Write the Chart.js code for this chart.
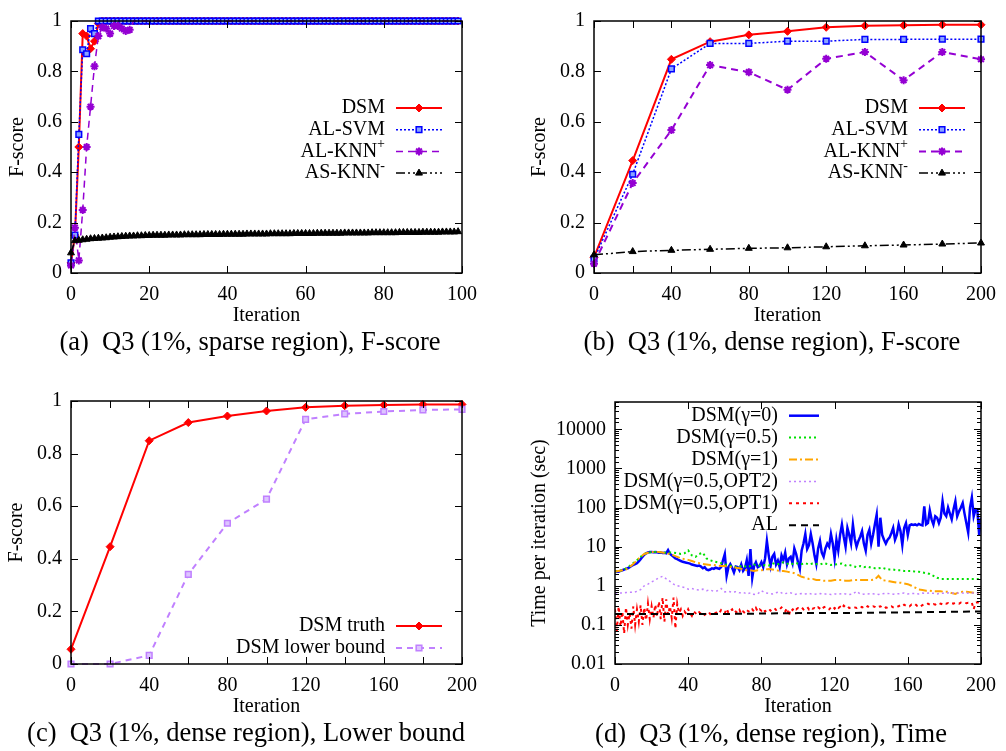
<!DOCTYPE html>
<html><head><meta charset="utf-8">
<script src="https://cdn.jsdelivr.net/npm/chart.js@4.4.1/dist/chart.umd.min.js"></script>
<style>
html,body{margin:0;padding:0;background:#fff;width:1006px;height:751px;overflow:hidden;}
body{position:relative;font-family:"Liberation Serif","Times New Roman",serif;}
canvas{position:absolute;}
.cap{position:absolute;font-size:26.5px;line-height:30px;white-space:pre;transform:translateX(-50%);color:#000;}
</style></head><body>
<canvas id="ca" width="500" height="330" style="left:0px;top:0px"></canvas>
<canvas id="cb" width="506" height="330" style="left:500px;top:0px"></canvas>
<canvas id="cc" width="500" height="350" style="left:0px;top:370px"></canvas>
<canvas id="cd" width="506" height="350" style="left:500px;top:370px"></canvas>
<div class="cap" style="left:250px;top:326px">(a)  Q3 (1%, sparse region), F-score</div>
<div class="cap" style="left:772px;top:326px">(b)  Q3 (1%, dense region), F-score</div>
<div class="cap" style="left:246px;top:717px">(c)  Q3 (1%, dense region), Lower bound</div>
<div class="cap" style="left:771px;top:718px">(d)  Q3 (1%, dense region), Time</div>
<script>
// ---------------- DATA ----------------
// Panel (a): iterations 0..99
const iterA = Array.from({length: 100}, (_, i) => i);
const dsmA = [0.04,0.15,0.50,0.95,0.94,0.89,0.92,0.99,
  1,1,1,1,1,1,1,1,1,1,1,1,1,1,1,1,1,1,1,1,1,1,1,
  1,1,1,1,1,1,1,1,1,1,1,1,1,1,1,1,1,1,1,1,1,1,1,
  1,1,1,1,1,1,1,1,1,1,1,1,1,1,1,1,1,1,1,1,1,1,1,
  1,1,1,1,1,1,1,1,1,1,1,1,1,1,1,1,1,1,1,1,1,1,1];
const svmA = [0.04,0.15,0.55,0.886,0.87,0.97,0.95,
  1,1,1,1,1,1,1,1,1,1,1,1,1,1,1,1,1,1,1,1,1,1,1,
  1,1,1,1,1,1,1,1,1,1,1,1,1,1,1,1,1,1,1,1,1,1,1,
  1,1,1,1,1,1,1,1,1,1,1,1,1,1,1,1,1,1,1,1,1,1,1,
  1,1,1,1,1,1,1,1,1,1,1,1,1,1,1,1,1,1,1,1,1,1,1,1];
const knnA = [0.03,0.18,0.05,0.25,0.50,0.66,0.82,0.94,0.975,0.97,0.95,0.98,0.98,0.97,0.96,0.965,
  1,1,1,1,1,1,1,1,1,1,1,1,1,1,1,1,1,1,1,1,1,
  1,1,1,1,1,1,1,1,1,1,1,1,1,1,1,1,1,1,1,1,1,
  1,1,1,1,1,1,1,1,1,1,1,1,1,1,1,1,1,1,1,1,1,
  1,1,1,1,1,1,1,1,1,1,1,1,1,1,1,1,1,1,1,1,1];
const knnAMarkedUpTo = 15; // stars only shown for the early, unconverged iterations
const asA = [0.08,
  0.128,0.13,0.132,0.134,0.136,0.137,0.138,0.139,0.14,0.142,
  0.143,0.144,0.145,0.146,0.147,0.147,0.148,0.148,0.149,0.149,
  0.15,0.15,0.15,0.15,0.151,0.151,0.151,0.151,0.152,0.152,
  0.152,0.152,0.152,0.153,0.153,0.153,0.153,0.153,0.154,0.154,
  0.154,0.154,0.154,0.154,0.155,0.155,0.155,0.155,0.155,0.155,
  0.156,0.156,0.156,0.156,0.156,0.156,0.157,0.157,0.157,0.157,
  0.157,0.157,0.158,0.158,0.158,0.158,0.158,0.158,0.158,0.159,
  0.159,0.159,0.159,0.159,0.159,0.159,0.16,0.16,0.16,0.16,
  0.16,0.16,0.16,0.161,0.161,0.161,0.161,0.161,0.161,0.162,
  0.162,0.162,0.162,0.162,0.163,0.163,0.163,0.163,0.164];

// Panel (b)
const iterB = [0,20,40,60,80,100,120,140,160,180,200];
const dsmB = [0.062,0.446,0.848,0.918,0.945,0.959,0.975,0.981,0.983,0.985,0.985];
const svmB = [0.056,0.392,0.81,0.911,0.911,0.92,0.92,0.927,0.927,0.928,0.928];
const knnB = [0.037,0.357,0.567,0.825,0.797,0.727,0.85,0.877,0.765,0.877,0.848];
const asB  = [0.072,0.085,0.09,0.094,0.098,0.10,0.104,0.108,0.111,0.115,0.119];

// Panel (c)
const iterC = [0,20,40,60,80,100,120,140,160,180,200];
const truthC = [0.056,0.446,0.849,0.918,0.943,0.962,0.976,0.982,0.985,0.987,0.987];
const lowerC = [0,0,0.033,0.341,0.535,0.627,0.93,0.951,0.96,0.966,0.968];

// Panel (d)
const iterD1 = Array.from({length: 201}, (_, i) => i);
const iterD2 = Array.from({length: 101}, (_, i) => i * 2);
const iterAL = [0,20,40,60,80,100,120,140,160,180,200];
const dsmG0 = [2.2,2.3,2.3,2.4,2.5,2.6,2.7,2.8,3.0,3.2,3.4,
  3.6,3.8,4.2,4.8,5.5,6.2,6.8,7.1,7.3,7.3,
  7.2,7.3,7.2,7.0,7.1,6.9,7.0,6.8,8.2,6.6,
  6.0,5.5,5.0,4.8,4.5,4.3,4.1,4.0,3.9,3.8,
  3.7,3.5,3.4,3.3,3.2,3.3,3.1,2.8,3.0,2.6,
  2.5,2.6,2.8,2.7,2.9,2.8,2.7,3.0,4.5,6.5,
  1.8,3.0,3.6,2.9,2.2,3.1,3.0,2.5,3.5,2.4,
  2.8,4.5,1.8,8.7,1.6,3.2,4.0,3.0,3.2,4.0,
  3.0,5.0,14,6.0,3.2,5.5,6.5,3.5,4.4,3.0,
  6.0,4.5,7.0,3.5,5.0,5.5,3.8,9.0,6.5,4.0,
  2.7,8.0,12,21,8.7,11,21,12,6.0,3.6,
  9.0,14,7.0,5.5,9.0,12,10,21,12,5.0,
  15,8.0,20,37,18,10,30,20,12,37,
  16,10,14,18,25,12,7.9,20,27,12,
  20,37,66,10,55,20,15,12,15,17,
  22,30,15,20,37,25,11,30,40,20,
  35,37,36,37,35,38,36,35,107,37,
  40,85,50,37,60,55,40,55,145,70,
  60,100,70,50,90,145,60,80,100,130,
  70,40,23,100,180,60,90,85,20,55];
const dsmG05 = [2.3,2.4,2.5,2.8,3.2,3.8,4.5,5.5,6.5,7.0,7.2,
  7.3,7.2,7.2,7.0,7.1,7.0,6.8,6.5,6.8,8.0,
  6.0,5.5,6.5,7.0,5.0,4.5,4.2,4.0,3.8,3.5,
  3.3,3.2,3.0,3.1,3.3,3.0,3.2,3.5,3.3,3.2,
  3.4,3.3,3.8,3.5,3.6,4.0,3.7,3.5,3.8,3.7,
  3.6,3.8,3.5,3.7,3.6,3.5,3.8,3.6,3.4,3.5,
  3.6,3.7,3.3,3.4,3.2,3.0,3.2,3.0,3.1,2.9,
  2.8,2.8,2.9,2.7,2.6,2.6,2.5,2.5,2.4,2.4,
  2.4,2.3,2.3,2.2,2.1,2.0,1.8,1.6,1.5,1.5,
  1.5,1.5,1.5,1.5,1.5,1.5,1.5,1.5,1.5,1.5];
const dsmG1 = [2.3,2.4,2.5,2.6,3.0,3.6,4.5,5.5,6.5,7.0,7.3,
  7.4,7.3,7.1,6.8,6.5,6.0,5.5,5.0,4.8,4.6,
  4.3,4.0,3.8,3.6,3.5,3.4,3.4,3.3,3.2,3.2,
  3.0,3.0,2.9,2.8,2.6,2.5,2.5,2.4,2.5,2.5,
  2.6,2.7,2.6,2.5,2.4,2.4,2.3,2.2,2.1,1.9,
  1.7,1.6,1.5,1.5,1.4,1.4,1.35,1.35,1.35,1.4,
  1.4,1.4,1.35,1.35,1.4,1.4,1.4,1.4,1.4,1.4,
  1.45,1.8,1.4,1.35,1.3,1.25,1.2,1.2,1.15,1.1,
  1.0,0.9,0.8,0.78,0.75,0.75,0.73,0.72,0.72,0.7,
  0.7,0.65,0.62,0.68,0.7,0.7,0.68,0.66,0.65,0.65];
const dsmOpt2 = [0.65,0.66,0.65,0.67,0.68,0.68,0.72,0.8,1.0,1.1,1.25,
  1.4,1.6,1.75,1.5,1.3,1.1,1.0,0.95,0.9,0.82,
  0.85,0.8,0.78,0.82,0.75,0.78,0.72,0.75,0.85,0.7,
  0.72,0.68,0.7,0.66,0.68,0.62,0.66,0.6,0.62,0.75,
  0.66,0.64,0.62,0.66,0.7,0.62,0.64,0.66,0.6,0.62,
  0.63,0.62,0.64,0.6,0.62,0.63,0.61,0.62,0.6,0.62,
  0.61,0.63,0.62,0.6,0.62,0.72,0.62,0.61,0.62,0.63,
  0.62,0.6,0.62,0.64,0.63,0.61,0.62,0.63,0.65,0.62,
  0.63,0.64,0.62,0.65,0.64,0.66,0.64,0.62,0.65,0.64,
  0.66,0.65,0.64,0.66,0.65,0.64,0.66,0.65,0.66,0.65];
const dsmOpt1 = [0.25,0.07,0.3,0.09,0.22,0.06,0.28,0.1,0.2,0.08,0.3,
  0.1,0.25,0.12,0.32,0.1,0.28,0.13,0.35,0.14,0.3,
  0.15,0.33,0.16,0.4,0.14,0.5,0.12,0.45,0.18,0.3,
  0.15,0.5,0.08,0.35,0.2,0.25,0.17,0.22,0.19,0.25,
  0.2,0.17,0.22,0.2,0.18,0.21,0.19,0.2,0.18,0.2,
  0.22,0.19,0.21,0.2,0.2,0.22,0.2,0.24,0.22,0.2,
  0.26,0.2,0.23,0.25,0.2,0.22,0.2,0.24,0.19,0.22,
  0.2,0.24,0.22,0.21,0.25,0.22,0.27,0.22,0.25,0.23,
  0.26,0.22,0.24,0.26,0.23,0.25,0.27,0.24,0.26,0.25,
  0.28,0.25,0.22,0.27,0.17,0.26,0.24,0.28,0.25,0.27,
  0.26,0.28,0.25,0.27,0.29,0.25,0.28,0.26,0.27,0.25,
  0.28,0.26,0.24,0.28,0.29,0.26,0.25,0.28,0.3,0.26,
  0.3,0.27,0.29,0.26,0.31,0.28,0.3,0.27,0.28,0.29,
  0.28,0.27,0.29,0.3,0.28,0.29,0.27,0.3,0.28,0.29,
  0.3,0.29,0.27,0.29,0.3,0.28,0.26,0.28,0.27,0.29,
  0.3,0.28,0.27,0.29,0.3,0.32,0.3,0.33,0.31,0.32,
  0.3,0.33,0.32,0.34,0.31,0.33,0.3,0.32,0.34,0.33,
  0.35,0.33,0.32,0.34,0.33,0.36,0.34,0.35,0.33,0.36,
  0.35,0.36,0.34,0.36,0.35,0.37,0.36,0.35,0.37,0.36,
  0.37,0.36,0.37,0.36,0.37,0.25,0.37,0.38,0.37,0.38];
const alD = [0.19,0.19,0.19,0.19,0.195,0.2,0.2,0.205,0.21,0.215,0.22];

// ---------------- HELPERS ----------------
const FONT = '"Liberation Serif", "Times New Roman", serif';
const pts = (xs, ys) => xs.map((x, i) => ({x: x, y: ys[i]}));

function drawMarker(ctx, ds, x, y) {
  ctx.save();
  ctx.setLineDash([]);
  ctx.fillStyle = ds.pointBackgroundColor || ds.borderColor;
  ctx.strokeStyle = ds.pointBorderColor || ds.borderColor;
  ctx.lineWidth = ds.pointBorderWidth || 1;
  const r = ds.legendRadius || ds.pointRadius;
  if (Chart.helpers && Chart.helpers.drawPoint) {
    Chart.helpers.drawPoint(ctx, {pointStyle: ds.pointStyle, radius: r, rotation: 0, borderWidth: ds.pointBorderWidth || 1}, x, y);
  }
  ctx.restore();
}

const gLegend = {
  id: 'gLegend',
  afterDatasetsDraw(chart, args, o) {
    if (!o || o.textRight === undefined) return;
    const ctx = chart.ctx;
    chart.data.datasets.forEach((ds, i) => {
      const y = o.y0 + i * o.dy;
      ctx.save();
      ctx.fillStyle = '#000';
      ctx.textBaseline = 'middle';
      ctx.textAlign = 'right';
      let x = o.textRight;
      if (ds.sup) {
        ctx.font = '14px ' + FONT;
        ctx.fillText(ds.sup, x, y - 7);
        x -= ctx.measureText(ds.sup).width;
      }
      ctx.font = '20px ' + FONT;
      ctx.fillText(ds.label, x, y);
      ctx.strokeStyle = ds.borderColor;
      ctx.lineWidth = ds.borderWidth;
      ctx.setLineDash(ds.borderDash || []);
      ctx.beginPath();
      ctx.moveTo(o.l0, y);
      ctx.lineTo(o.l1, y);
      ctx.stroke();
      ctx.restore();
      if (ds.legendRadius || (typeof ds.pointRadius === 'number' && ds.pointRadius > 0)) drawMarker(ctx, ds, (o.l0 + o.l1) / 2, y);
    });
  }
};

const gFrame = {
  id: 'gFrame',
  afterDraw(chart) {
    const {ctx, chartArea: a, scales} = chart;
    ctx.save();
    ctx.strokeStyle = '#000';
    ctx.setLineDash([]);
    ctx.lineWidth = 1;
    const seg = (x1, y1, x2, y2) => { ctx.beginPath(); ctx.moveTo(x1, y1); ctx.lineTo(x2, y2); ctx.stroke(); };
    const xs = scales.x, ys = scales.y;
    xs.ticks.forEach(t => {
      const p = Math.round(xs.getPixelForValue(t.value)) + 0.5;
      seg(p, a.bottom, p, a.bottom - 7);
      seg(p, a.top, p, a.top + 7);
    });
    ys.ticks.forEach(t => {
      let L = 7;
      if (ys.type === 'logarithmic') {
        const l = Math.log10(t.value);
        L = Math.abs(l - Math.round(l)) < 1e-6 ? 7 : 4;
      }
      const p = Math.round(ys.getPixelForValue(t.value)) + 0.5;
      seg(a.left, p, a.left + L, p);
      seg(a.right, p, a.right - L, p);
    });
    ctx.lineWidth = 1.5;
    ctx.strokeRect(a.left, a.top, a.right - a.left, a.bottom - a.top);
    ctx.restore();
  }
};

function xScale(max, step, every, h, tpad) {
  return {
    type: 'linear', min: 0, max: max,
    ticks: {stepSize: step, autoSkip: false, maxRotation: 0, padding: 10, color: '#000',
      font: {family: FONT, size: 20},
      callback: v => (v % every === 0 ? String(v) : '')},
    grid: {display: false, drawTicks: false}, border: {display: false},
    title: {display: true, text: 'Iteration', color: '#000', font: {family: FONT, size: 20}, padding: {top: 0, bottom: tpad}},
    afterFit: s => { s.height = h; }
  };
}
function yLin(w, tpad) {
  return {
    type: 'linear', min: 0, max: 1,
    ticks: {stepSize: 0.2, autoSkip: false, padding: 9, color: '#000', font: {family: FONT, size: 20},
      callback: v => String(Math.round(v * 10) / 10)},
    grid: {display: false, drawTicks: false}, border: {display: false},
    title: {display: true, text: 'F-score', color: '#000', font: {family: FONT, size: 20}, padding: {top: tpad, bottom: 0}},
    afterFit: s => { s.width = w; }
  };
}
function baseOpts(pad, xs, ys, legend) {
  return {
    responsive: false, animation: false, devicePixelRatio: 1,
    layout: {padding: pad, autoPadding: false},
    scales: {x: xs, y: ys},
    plugins: {legend: {display: false}, tooltip: {enabled: false}, gLegend: legend},
    elements: {line: {tension: 0}}
  };
}

// Dataset style factories
const sDSM = (label, data, i) => ({label, data, order: -i, clip: false, borderColor: '#ff0000', backgroundColor: '#ff0000', borderWidth: 2,
  pointStyle: 'rectRot', pointRadius: 4, pointBackgroundColor: '#ff0000', pointBorderColor: '#ff0000', pointBorderWidth: 1});
const sSVM = (label, data, i) => ({label, data, order: -i, clip: false, borderColor: '#0000ff', borderWidth: 1.5, borderDash: [2, 2],
  pointStyle: 'rect', pointRadius: 4, pointBackgroundColor: '#8aa4ff', pointBorderColor: '#0000ff', pointBorderWidth: 1.5});
const sKNN = (label, data, i) => ({label, sup: '+', data, order: -i, clip: false, borderColor: '#9400d3', borderWidth: 2, borderDash: [7, 5],
  pointStyle: 'star', pointRadius: 4, pointBackgroundColor: '#9400d3', pointBorderColor: '#9400d3', pointBorderWidth: 2});
const sAS = (label, data, i) => ({label, sup: '-', data, order: -i, clip: false, borderColor: '#000000', borderWidth: 1.5, borderDash: [9, 3, 2, 3, 2, 3],
  pointStyle: 'triangle', pointRadius: 4, pointBackgroundColor: '#000', pointBorderColor: '#000', pointBorderWidth: 1});

// ---------------- CHART (a) ----------------
const knnADs = sKNN('AL-KNN', pts(iterA, knnA), 2);
knnADs.legendRadius = 4;
knnADs.pointRadius = c => (c.dataIndex <= knnAMarkedUpTo ? 4 : 0);
knnADs.borderWidth = 1.5;
new Chart(document.getElementById('ca'), {
  type: 'line',
  data: {datasets: [
    sDSM('DSM', pts(iterA, dsmA), 0),
    sSVM('AL-SVM', pts(iterA, svmA), 1),
    knnADs,
    sAS('AS-KNN', pts(iterA, asA), 3)
  ]},
  options: baseOpts({left: 0, top: 10, right: 38, bottom: 0},
    xScale(100, 20, 20, 57, 2), yLin(71, 5.5),
    {textRight: 385, y0: 108, dy: 21.7, l0: 396, l1: 442}),
  plugins: [gLegend, gFrame]
});

// ---------------- CHART (b) ----------------
new Chart(document.getElementById('cb'), {
  type: 'line',
  data: {datasets: [
    sDSM('DSM', pts(iterB, dsmB), 0),
    sSVM('AL-SVM', pts(iterB, svmB), 1),
    sKNN('AL-KNN', pts(iterB, knnB), 2),
    sAS('AS-KNN', pts(iterB, asB), 3)
  ]},
  options: baseOpts({left: 0, top: 10, right: 20, bottom: 0},
    xScale(200, 20, 40, 57, 2), yLin(94, 28),
    {textRight: 408, y0: 108, dy: 21.7, l0: 419, l1: 465}),
  plugins: [gLegend, gFrame]
});

// ---------------- CHART (c) ----------------
new Chart(document.getElementById('cc'), {
  type: 'line',
  data: {datasets: [
    sDSM('DSM truth', pts(iterC, truthC), 0),
    {label: 'DSM lower bound', data: pts(iterC, lowerC), order: -1, clip: false, borderColor: '#c080ff', borderWidth: 2, borderDash: [6, 5],
      pointStyle: 'rect', pointRadius: 4, pointBackgroundColor: '#ddc4ff', pointBorderColor: '#c080ff', pointBorderWidth: 1.5}
  ]},
  options: baseOpts({left: 0, top: 31, right: 38, bottom: 0},
    xScale(200, 20, 40, 56, 1), yLin(71, 5),
    {textRight: 385, y0: 256, dy: 22, l0: 396, l1: 442}),
  plugins: [gLegend, gFrame]
});

// ---------------- CHART (d) ----------------
const lineD = (label, xs, ys, color, width, dash, i) => ({label, data: pts(xs, ys), order: -i, borderColor: color, borderWidth: width, borderDash: dash, pointRadius: 0});
new Chart(document.getElementById('cd'), {
  type: 'line',
  data: {datasets: [
    lineD('DSM(\u03b3=0)', iterD1, dsmG0, '#0000ff', 2.5, [], 0),
    lineD('DSM(\u03b3=0.5)', iterD2, dsmG05, '#00e000', 2, [2, 3], 1),
    lineD('DSM(\u03b3=1)', iterD2, dsmG1, '#ffa500', 2, [8, 3, 2, 3], 2),
    lineD('DSM(\u03b3=0.5,OPT2)', iterD2, dsmOpt2, '#c080ff', 1.5, [2, 3], 3),
    lineD('DSM(\u03b3=0.5,OPT1)', iterD1, dsmOpt1, '#ff0000', 2, [3, 4], 4),
    lineD('AL', iterAL, alD, '#000000', 2, [7, 5], 5)
  ]},
  options: baseOpts({left: 0, top: 32, right: 20, bottom: 0},
    {
      type: 'linear', min: 0, max: 200,
      ticks: {stepSize: 40, autoSkip: false, maxRotation: 0, padding: 10, color: '#000', font: {family: FONT, size: 20}},
      grid: {display: false, drawTicks: false}, border: {display: false},
      title: {display: true, text: 'Iteration', color: '#000', font: {family: FONT, size: 20}, padding: {top: 0, bottom: 1}},
      afterFit: s => { s.height = 56; }
    },
    {
      type: 'logarithmic', min: 0.01, max: 50000,
      ticks: {autoSkip: false, padding: 9, color: '#000', font: {family: FONT, size: 20},
        callback: v => { const l = Math.log10(v); return Math.abs(l - Math.round(l)) < 1e-6 ? String(Number(v.toPrecision(1))) : ''; }},
      grid: {display: false, drawTicks: false}, border: {display: false},
      title: {display: true, text: 'Time per iteration (sec)', color: '#000', font: {family: FONT, size: 20}, padding: {top: 28, bottom: 0}},
      afterFit: s => { s.width = 115; }
    },
    {textRight: 278, y0: 45.7, dy: 21.9, l0: 289, l1: 319}),
  plugins: [gLegend, gFrame]
});
</script>
</body></html>
